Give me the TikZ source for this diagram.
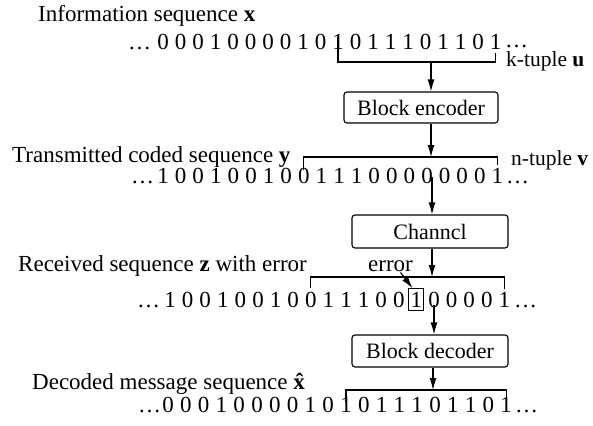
\documentclass[tikz,border=0pt]{standalone}
\usepackage{fontspec}
\setmainfont{Liberation Serif}
\usetikzlibrary{arrows.meta,calc,fit}
\begin{document}
\begin{tikzpicture}[x=1pt,y=-1pt,
  txt/.style={inner sep=0pt, font=\fontsize{23}{27}\selectfont},
  lbl/.style={txt, anchor=base west},
  side/.style={inner sep=0pt, anchor=base west, font=\fontsize{21.5}{26}\selectfont},
  dig/.style={txt, anchor=base},
  blk/.style={draw, rounded corners=3pt, line width=1.1pt, inner sep=0pt,
              font=\fontsize{22}{26}\selectfont},
  arr/.style={-{Latex[length=12pt,width=7pt]}, line width=1.1pt},
  brk/.style={line width=1.1pt}]
\useasboundingbox (0,0) rectangle (593,425);

% labels
\node[lbl] (l1) at (38,22) {Information sequence \textbf{x}};
\node[lbl] (l2) at (12,162) {Transmitted coded sequence \textbf{y}};
\node[lbl] (l3) at (18,271) {Received sequence \textbf{z} with error};
\node[lbl] (l4) at (32,389) {Decoded message sequence \textbf{\^{x}}};
\node[side] (ku) at (506,67) {k-tuple \textbf{u}};
\node[side] (nv) at (511,165) {n-tuple \textbf{v}};
\node[lbl] (errlbl) at (368,271) {error};

% sequences
\node[lbl] (a0d) at (128,50) {\ldots};
\foreach \d [count=\i from 0] in {0,0,0,1,0,0,0,0,1,0,1,0,1,1,1,0,1,1,0,1}
  \node[dig] (a\i) at ({163+17.5*\i},50) {\d};
\node[lbl] (a1d) at (505,48) {\ldots};

\node[lbl] (b0d) at (131,183) {\ldots};
\foreach \d [count=\i from 0] in {1,0,0,1,0,0,1,0,0,1,1,1,0,0,0,0,0,0,0,1}
  \node[dig] (b\i) at ({163+17.6*\i},183) {\d};
\node[lbl] (b1d) at (506,183) {\ldots};

\node[lbl] (c0d) at (137,307) {\ldots};
\foreach \d [count=\i from 0] in {1,0,0,1,0,0,1,0,0,1,1,1,0,0,1,0,0,0,0,1}
  \node[dig] (c\i) at ({170+17.6*\i},307) {\d};
\node[lbl] (c1d) at (514,307) {\ldots};
\node[draw, line width=1pt, inner xsep=1.5pt, inner ysep=3pt, fit=(c14)] (errbox) {};

\node[lbl] (d0d) at (138,412) {\ldots};
\foreach \d [count=\i from 0] in {0,0,0,1,0,0,0,0,1,0,1,0,1,1,1,0,1,1,0,1}
  \node[dig] (d\i) at ({168+17.8*\i},412) {\d};
\node[lbl] (d1d) at (515,412) {\ldots};

% blocks
\node[blk, minimum width=154pt, minimum height=31pt] (enc) at (421,107.5) {Block encoder};
\node[blk, minimum width=156pt, minimum height=33pt] (chan) at (430,231.5) {Channcl};
\node[blk, minimum width=156pt, minimum height=32pt] (dec) at (430,351) {Block decoder};

% brackets
\coordinate (m1) at (431,62);
\coordinate (m2) at (431,157);
\coordinate (m3) at (432,277);
\coordinate (m4) at (433,390);
\draw[brk] (a10 |- 0,37) -- (a10 |- m1) -- (a19 |- m1) -- (a19 |- 0,53);
\draw[brk] (b8 |- 0,170) -- (b8 |- m2) -- (b19 |- m2) -- (b19 |- 0,165);
\draw[brk] (c8 |- 0,288) -- (c8 |- m3) -- (c19 |- m3) -- (c19 |- 0,289);
\draw[brk] (d10 |- 0,402) -- (d10 |- m4) -- (d19 |- m4) -- (d19 |- 0,398);

% arrows
\coordinate (s2) at (432,177);
\coordinate (s3) at (434,305);
\draw[arr] (m1) -- (m1 |- enc.north);
\draw[arr] (m1 |- enc.south) -- (m2);
\draw[arr] (s2) -- (s2 |- chan.north);
\draw[arr] (m3 |- chan.south) -- (m3);
\draw[arr] ($(errlbl.south)+(10,1)$) -- ($(errbox.north west)+(4,0)$);
\draw[arr] (s3) -- (s3 |- dec.north);
\draw[arr] (m4 |- dec.south) -- (m4);
\end{tikzpicture}
\end{document}
